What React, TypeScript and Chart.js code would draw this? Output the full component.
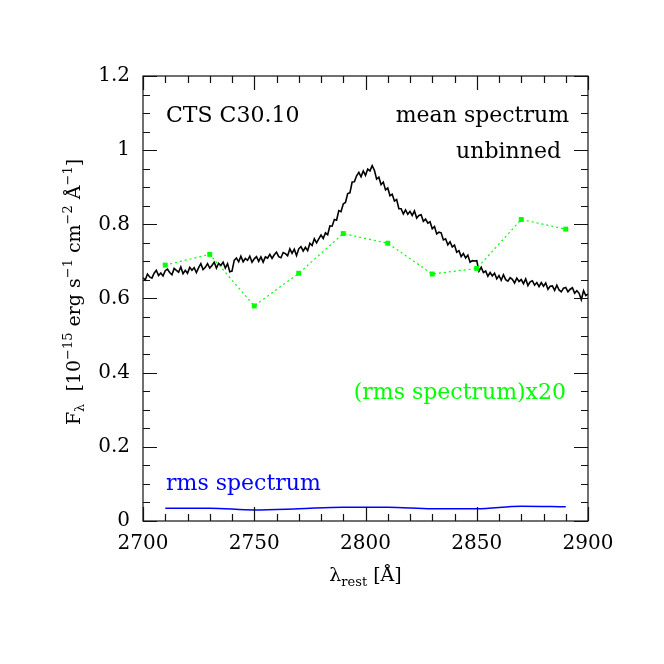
import React, { useEffect, useRef } from "react";
import { Chart, registerables } from "chart.js";

Chart.register(...registerables);

// ---- data ----
const meanWaveStart = 2700;
const meanWaveStep = 1;
const meanFlux = [
  0.656, 0.650, 0.666, 0.658, 0.655, 0.668, 0.676, 0.662, 0.669, 0.661,
  0.675, 0.679, 0.670, 0.664, 0.681, 0.676, 0.671, 0.685, 0.667, 0.676,
  0.668, 0.684, 0.676, 0.683, 0.670, 0.683, 0.694, 0.678, 0.684, 0.694,
  0.682, 0.689, 0.698, 0.682, 0.695, 0.689, 0.698, 0.682, 0.694, 0.672,
  0.674, 0.703, 0.709, 0.699, 0.714, 0.699, 0.708, 0.703, 0.714, 0.698,
  0.707, 0.713, 0.700, 0.712, 0.698, 0.712, 0.709, 0.719, 0.708, 0.718,
  0.725, 0.713, 0.710, 0.724, 0.721, 0.715, 0.734, 0.722, 0.733, 0.716,
  0.734, 0.740, 0.728, 0.738, 0.729, 0.749, 0.743, 0.761, 0.750, 0.761,
  0.771, 0.762, 0.777, 0.772, 0.796, 0.795, 0.813, 0.811, 0.837, 0.834,
  0.855, 0.859, 0.883, 0.885, 0.914, 0.915, 0.931, 0.940, 0.928, 0.944,
  0.932, 0.949, 0.944, 0.958, 0.946, 0.922, 0.927, 0.907, 0.914, 0.893,
  0.898, 0.877, 0.881, 0.863, 0.867, 0.842, 0.842, 0.828, 0.839, 0.827,
  0.835, 0.824, 0.836, 0.817, 0.824, 0.826, 0.808, 0.814, 0.803, 0.807,
  0.788, 0.794, 0.774, 0.779, 0.777, 0.758, 0.761, 0.745, 0.753, 0.739,
  0.744, 0.725, 0.729, 0.713, 0.721, 0.709, 0.717, 0.698, 0.702, 0.701,
  0.702, 0.674, 0.684, 0.670, 0.674, 0.660, 0.670, 0.661, 0.668, 0.653,
  0.662, 0.649, 0.664, 0.651, 0.647, 0.656, 0.652, 0.642, 0.655, 0.646,
  0.651, 0.640, 0.653, 0.635, 0.645, 0.648, 0.636, 0.643, 0.632, 0.643,
  0.633, 0.642, 0.625, 0.633, 0.634, 0.622, 0.636, 0.623, 0.618, 0.628,
  0.630, 0.618, 0.625, 0.629, 0.614, 0.621, 0.614, 0.597, 0.621, 0.608,
  0.612,
];
const rmsWave = [2710, 2730, 2750, 2770, 2790, 2810, 2830, 2850, 2870, 2890];
const rmsTimes20 = [0.690, 0.719, 0.580, 0.668, 0.775, 0.749, 0.666, 0.681, 0.813, 0.787];
const rmsFlux = [0.0342, 0.0345, 0.0296, 0.0330, 0.0374, 0.0374, 0.0330, 0.0330, 0.0400, 0.0385];

const xMin = 2700;
const xMax = 2900;
const xMajor = 50;
const xMinor = 10;
const yMin = 0;
const yMax = 1.2;
const yMajor = 0.2;
const yMinor = 0.05;

const SERIF = "'DejaVu Serif', serif";

type Seg = { t: string; size: number; dy: number };

function drawRich(ctx: CanvasRenderingContext2D, segs: Seg[], cx: number, cy: number, rot: number) {
  ctx.save();
  ctx.translate(cx, cy);
  ctx.rotate(rot);
  let total = 0;
  for (const s of segs) {
    ctx.font = `${s.size}px ${SERIF}`;
    total += ctx.measureText(s.t).width;
  }
  let x = -total / 2;
  ctx.textBaseline = "alphabetic";
  ctx.textAlign = "left";
  for (const s of segs) {
    ctx.font = `${s.size}px ${SERIF}`;
    ctx.fillText(s.t, x, s.dy);
    x += ctx.measureText(s.t).width;
  }
  ctx.restore();
}

const decorPlugin = {
  id: "decor",
  afterDraw(chart: any) {
    const ctx: CanvasRenderingContext2D = chart.ctx;
    const ca = chart.chartArea;
    const xs = chart.scales.x;
    const ys = chart.scales.y;
    ctx.save();
    ctx.strokeStyle = "#111";
    ctx.lineWidth = 1.2;
    ctx.strokeRect(ca.left, ca.top, ca.right - ca.left, ca.bottom - ca.top);
    ctx.beginPath();
    const nx = Math.round((xMax - xMin) / xMinor);
    for (let i = 0; i <= nx; i++) {
      const v = xMin + i * xMinor;
      const major = Math.abs((v - xMin) % xMajor) < 1e-6;
      const len = major ? 14 : 7;
      const px = Math.round(xs.getPixelForValue(v)) + 0.5;
      ctx.moveTo(px, ca.bottom);
      ctx.lineTo(px, ca.bottom - len);
      ctx.moveTo(px, ca.top);
      ctx.lineTo(px, ca.top + len);
    }
    const ny = Math.round((yMax - yMin) / yMinor);
    for (let i = 0; i <= ny; i++) {
      const v = yMin + i * yMinor;
      const major = i % Math.round(yMajor / yMinor) === 0;
      const len = major ? 14 : 7;
      const py = Math.round(ys.getPixelForValue(v)) + 0.5;
      ctx.moveTo(ca.left, py);
      ctx.lineTo(ca.left + len, py);
      ctx.moveTo(ca.right, py);
      ctx.lineTo(ca.right - len, py);
    }
    ctx.stroke();

    // annotations
    ctx.font = `22px ${SERIF}`;
    ctx.textBaseline = "alphabetic";
    ctx.fillStyle = "#000";
    ctx.textAlign = "left";
    ctx.fillText("CTS C30.10", ca.left + 23, ca.top + 46);
    ctx.textAlign = "right";
    ctx.fillText("mean spectrum", ca.right - 19, ca.top + 46);
    ctx.fillText("unbinned", ca.right - 27, ca.top + 82);
    ctx.fillStyle = "#00ff00";
    ctx.fillText("(rms spectrum)x20", ca.right - 22, ca.top + 323);
    ctx.fillStyle = "#0000ff";
    ctx.textAlign = "left";
    ctx.fillText("rms spectrum", ca.left + 23, ca.bottom - 31);

    // axis titles
    ctx.fillStyle = "#000";
    const m = 19;
    const s = 13;
    drawRich(
      ctx,
      [
        { t: "F", size: m, dy: 0 },
        { t: "λ", size: s, dy: 4 },
        { t: "  [10", size: m, dy: 0 },
        { t: "−15", size: s, dy: -8 },
        { t: " erg s", size: m, dy: 0 },
        { t: "−1", size: s, dy: -8 },
        { t: " cm", size: m, dy: 0 },
        { t: "−2", size: s, dy: -8 },
        { t: " Å", size: m, dy: 0 },
        { t: "−1", size: s, dy: -8 },
        { t: "]", size: m, dy: 0 },
      ],
      80,
      292,
      -Math.PI / 2
    );
    drawRich(
      ctx,
      [
        { t: "λ", size: 19, dy: 0 },
        { t: "rest", size: 13, dy: 5 },
        { t: " [Å]", size: 19, dy: 0 },
      ],
      (ca.left + ca.right) / 2,
      581,
      0
    );
    ctx.restore();
  },
};

export default function App() {
  const ref = useRef<HTMLCanvasElement | null>(null);
  useEffect(() => {
    if (!ref.current) return;
    const meanData = meanFlux.map((v, i) => ({ x: meanWaveStart + i * meanWaveStep, y: v }));
    const x20Data = rmsWave.map((w, i) => ({ x: w, y: rmsTimes20[i] }));
    const rmsData = rmsWave.map((w, i) => ({ x: w, y: rmsFlux[i] }));
    const chart = new Chart(ref.current, {
      type: "line",
      data: {
        datasets: [
          {
            data: x20Data,
            borderColor: "#00ff00",
            backgroundColor: "#00ff00",
            borderWidth: 1.2,
            borderDash: [2, 3],
            pointStyle: "rect",
            pointRadius: 3.5,
            pointBorderWidth: 0,
            order: 0,
          },
          {
            data: meanData,
            borderColor: "#000",
            borderWidth: 1.6,
            pointRadius: 0,
            order: 1,
          },
          {
            data: rmsData,
            borderColor: "#0000ff",
            borderWidth: 1.5,
            pointRadius: 0,
            cubicInterpolationMode: "monotone",
            order: 2,
          },
        ],
      },
      options: {
        animation: false,
        responsive: false,
        devicePixelRatio: 1,
        layout: { padding: { top: 76, right: 76, left: 0, bottom: 0 } },
        plugins: { legend: { display: false }, tooltip: { enabled: false } },
        scales: {
          x: {
            type: "linear",
            min: xMin,
            max: xMax,
            grid: { display: false, drawTicks: false },
            border: { display: false },
            ticks: {
              stepSize: xMajor,
              autoSkip: false,
              maxRotation: 0,
              padding: 11,
              color: "#000",
              font: { family: SERIF, size: 20 },
              callback: (v: any) => String(v),
            },
            afterFit: (axis: any) => {
              axis.height = 143;
            },
          },
          y: {
            type: "linear",
            min: yMin,
            max: yMax,
            grid: { display: false, drawTicks: false },
            border: { display: false },
            ticks: {
              stepSize: yMajor,
              autoSkip: false,
              padding: 13,
              color: "#000",
              font: { family: SERIF, size: 20 },
              callback: (v: any) => String(Number(Number(v).toFixed(2))),
            },
            afterFit: (axis: any) => {
              axis.width = 143;
            },
          },
        },
      },
      plugins: [decorPlugin],
    } as any);
    return () => chart.destroy();
  }, []);
  return (
    <div style={{ position: "absolute", left: 0, top: 0, width: 664, height: 664, background: "#fff" }}>
      <canvas ref={ref} width={664} height={664} style={{ width: 664, height: 664 }} />
    </div>
  );
}
